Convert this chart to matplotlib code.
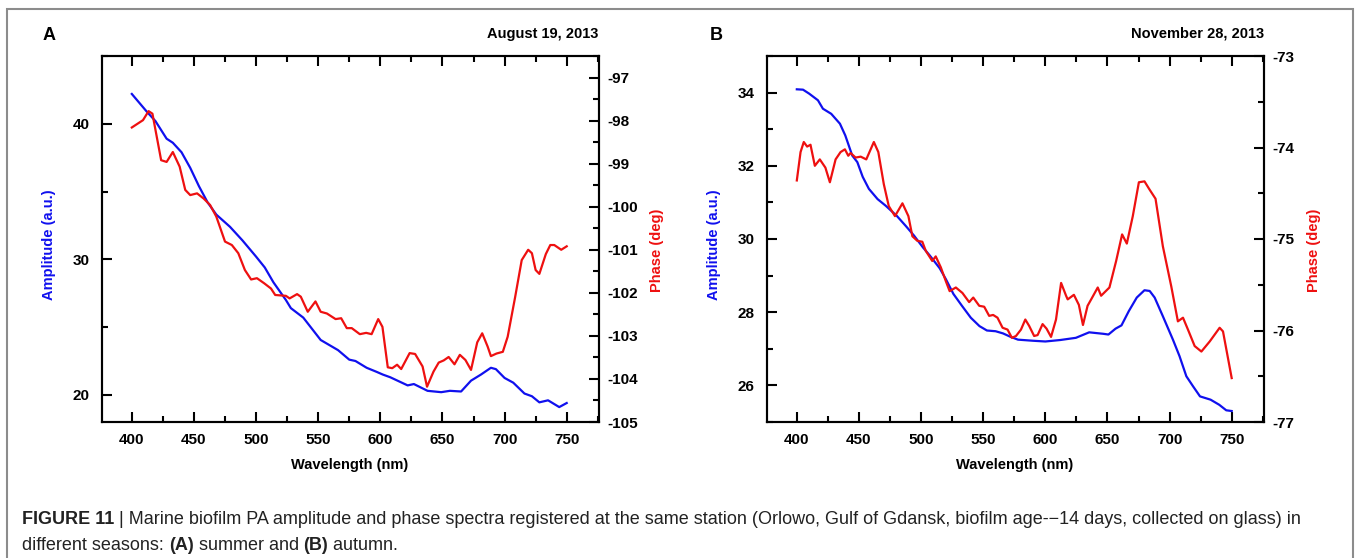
import matplotlib
matplotlib.use("Agg")
import matplotlib.pyplot as plt
from matplotlib.ticker import MultipleLocator
from matplotlib.patches import Rectangle

plt.rcParams['font.family'] = ['Liberation Sans', 'DejaVu Sans']
plt.rcParams['axes.unicode_minus'] = False

# Panel A - August 19, 2013
wl_a_amp = [400, 412, 419, 428, 433, 440, 447, 454, 461, 468, 479, 489, 500, 507, 514,
            524, 528, 538, 552, 566, 575, 580, 589, 597, 602, 608, 622, 627, 638, 649,
            656, 665, 673, 681, 689, 693, 700, 707, 716, 722, 728, 735, 744, 750]
amp_a = [42.2, 40.9, 40.2, 38.9, 38.6, 37.9, 36.75, 35.4, 34.2, 33.3, 32.4, 31.4, 30.2, 29.4, 28.3,
         27.0, 26.4, 25.7, 24.05, 23.3, 22.6, 22.5, 22.0, 21.7, 21.5, 21.3, 20.7, 20.8, 20.3, 20.2,
         20.3, 20.25, 21.05, 21.5, 22.0, 21.9, 21.25, 20.9, 20.1, 19.9, 19.45, 19.6, 19.1, 19.4]

wl_a_ph = [400, 409, 413.5, 416.6, 423.6, 428, 433, 438.5, 443, 447, 452.5, 457.8, 463, 468,
           475, 480.5, 485.7, 491, 496, 500.7, 506.6, 512, 515.4, 524, 527, 533, 536, 541.6,
           547.8, 552, 557, 564, 568.5, 573, 577, 583.5, 588.6, 593, 598.3, 601.7, 606, 609.6,
           613.5, 616.8, 623.6, 628, 634, 637.6, 642.8, 647, 651, 655, 659.7, 664, 668.5, 673,
           678, 682, 686.4, 689, 693.5, 698.6, 702.5, 708.5, 713.8, 719, 722, 725, 728, 733.2,
           736.8, 740, 745.6, 750]
phase_a = [-98.16, -97.99, -97.78, -97.84, -98.92, -98.96, -98.73, -99.07, -99.61, -99.73,
           -99.69, -99.81, -99.96, -100.23, -100.81, -100.89, -101.08, -101.47, -101.69,
           -101.66, -101.78, -101.90, -102.05, -102.07, -102.13, -102.03, -102.09, -102.44,
           -102.2, -102.44, -102.48, -102.61, -102.59, -102.82, -102.82, -102.96, -102.93,
           -102.96, -102.61, -102.79, -103.73, -103.75, -103.67, -103.77, -103.40, -103.42,
           -103.71, -104.18, -103.83, -103.62, -103.57, -103.49, -103.66, -103.44, -103.56,
           -103.79, -103.15, -102.94, -103.25, -103.47, -103.41, -103.37, -103.02, -102.1,
           -101.24, -101.0, -101.08, -101.47, -101.56, -101.1, -100.89, -100.89, -101.0, -100.92]

# Panel B - November 28, 2013
wl_b_amp = [400, 405, 410, 417, 421, 427.7, 434.7, 439, 444.6, 448.7, 453, 458, 465, 471.5,
            480.5, 487.6, 494.4, 501.5, 507, 515, 520, 526, 533, 540, 547, 553, 560, 566,
            571.8, 578, 590, 600, 612, 624.6, 635.3, 646.6, 650.8, 656.5, 661.3, 667.2,
            673.6, 679.8, 684, 688, 694.6, 702.7, 708, 713.5, 719, 724.5, 733, 740, 745.6, 750]
amp_b = [34.09, 34.08, 33.97, 33.79, 33.56, 33.42, 33.15, 32.83, 32.28, 32.1, 31.7, 31.37,
         31.09, 30.91, 30.63, 30.36, 30.09, 29.77, 29.55, 29.2, 28.9, 28.5, 28.17, 27.85,
         27.62, 27.5, 27.48, 27.42, 27.33, 27.25, 27.22, 27.2, 27.24, 27.3, 27.45, 27.41,
         27.39, 27.55, 27.64, 28.03, 28.40, 28.60, 28.58, 28.4, 27.89, 27.25, 26.8, 26.25,
         25.97, 25.70, 25.61, 25.47, 25.32, 25.30]

wl_b_ph = [400, 403, 405.6, 408.3, 411, 414.5, 418.5, 423, 426.6, 431.2, 435.2, 438.7, 441.4,
           443.3, 447.3, 451.4, 455.9, 462, 465.6, 470, 474, 479, 485, 489.8, 493, 497, 501,
           503.8, 509, 511.8, 515.9, 519.9, 523, 528, 533.3, 538.7, 542, 546.8, 550.8, 554.8,
           558, 561.5, 565.6, 569.6, 573.1, 576.4, 580.4, 583.9, 587, 591, 593.8, 597.8, 601,
           604.6, 608.6, 612.7, 616.7, 618, 623, 627, 630.3, 634, 636.9, 642.2, 644.9, 651.6,
           657, 661.8, 665.6, 670.4, 675.3, 679.8, 683.9, 688.7, 694.6, 701.4, 706.7, 710.8,
           714.8, 720.2, 725.6, 732.3, 740.3, 743, 750]
phase_b = [-74.36, -74.05, -73.94, -73.99, -73.97, -74.20, -74.13, -74.22, -74.38, -74.13,
           -74.05, -74.02, -74.09, -74.06, -74.11, -74.10, -74.13, -73.94, -74.05, -74.40,
           -74.64, -74.75, -74.61, -74.75, -74.97, -75.02, -75.03, -75.13, -75.24, -75.19,
           -75.31, -75.46, -75.57, -75.53, -75.59, -75.69, -75.64, -75.73, -75.74, -75.84,
           -75.83, -75.86, -75.97, -75.99, -76.08, -76.06, -75.99, -75.88, -75.95, -76.06,
           -76.05, -75.93, -75.98, -76.07, -75.88, -75.48, -75.62, -75.66, -75.61, -75.72,
           -75.94, -75.73, -75.66, -75.53, -75.62, -75.53, -75.24, -74.95, -75.05, -74.75,
           -74.38, -74.37, -74.46, -74.56, -75.08, -75.52, -75.90, -75.86, -75.99, -76.17,
           -76.23, -76.12, -75.97, -76.01, -76.52]

W, H = 1360, 558
fig = plt.figure(figsize=(W / 100, H / 100), dpi=100)


def style_axes(ax, ax2, ylim, ylim2, ymaj, ymin, ymaj2, ymin2):
    ax.set_xlim(376, 776)
    ax.set_ylim(*ylim)
    ax2.set_ylim(*ylim2)
    ax.xaxis.set_major_locator(MultipleLocator(50))
    ax.xaxis.set_minor_locator(MultipleLocator(25))
    ax.yaxis.set_major_locator(MultipleLocator(ymaj))
    ax.yaxis.set_minor_locator(MultipleLocator(ymin))
    ax2.yaxis.set_major_locator(MultipleLocator(ymaj2))
    ax2.yaxis.set_minor_locator(MultipleLocator(ymin2))
    ax.tick_params(axis='x', which='both', direction='in', top=True, width=1.5, pad=8)
    ax.tick_params(axis='x', which='major', length=7)
    ax.tick_params(axis='x', which='minor', length=4)
    ax.tick_params(axis='y', which='both', direction='in', right=False, width=1.5, pad=9)
    ax.tick_params(axis='y', which='major', length=7)
    ax.tick_params(axis='y', which='minor', length=4)
    ax2.tick_params(axis='y', which='both', direction='in', width=1.5, pad=6)
    ax2.tick_params(axis='y', which='major', length=7)
    ax2.tick_params(axis='y', which='minor', length=4)
    for a in (ax, ax2):
        for sp in a.spines.values():
            sp.set_linewidth(1.5)
        for lab in a.get_xticklabels() + a.get_yticklabels():
            lab.set_fontweight('bold')
            lab.set_fontsize(11)


def px(x, y):
    return x / W, 1 - y / H


# panel A
axA = fig.add_axes([102 / W, 1 - 422 / H, 497 / W, 366 / H])
axA2 = axA.twinx()
axA.plot(wl_a_amp, amp_a, color='#1010ee', lw=1.6, zorder=3)
axA2.plot(wl_a_ph, phase_a, color='#ee1010', lw=1.6)
style_axes(axA, axA2, (18, 45), (-105, -96.5), 10, 5, 1, 0.5)

# panel B
axB = fig.add_axes([767 / W, 1 - 422 / H, 497 / W, 366 / H])
axB2 = axB.twinx()
axB.plot(wl_b_amp, amp_b, color='#1010ee', lw=1.6, zorder=3)
axB2.plot(wl_b_ph, phase_b, color='#ee1010', lw=1.6)
style_axes(axB, axB2, (25, 35), (-77, -73), 2, 1, 1, 0.5)

# labels
fig.text(*px(43, 35), 'A', fontsize=13, fontweight='bold', va='center', ha='left')
fig.text(*px(598, 34), 'August 19, 2013', fontsize=10.5, fontweight='bold', va='center', ha='right')
fig.text(*px(710, 35), 'B', fontsize=13, fontweight='bold', va='center', ha='left')
fig.text(*px(1264, 34), 'November 28, 2013', fontsize=10.5, fontweight='bold', va='center', ha='right')

for xc in (350, 1015):
    fig.text(*px(xc, 465), 'Wavelength (nm)', fontsize=10.5, fontweight='bold', ha='center', va='center')
for xc in (49, 714):
    fig.text(*px(xc, 245), 'Amplitude (a.u.)', fontsize=10.5, fontweight='bold', color='#1010ee',
             rotation=90, ha='center', va='center')
for xc in (657, 1314):
    fig.text(*px(xc, 250), 'Phase (deg)', fontsize=10.5, fontweight='bold', color='#ee1010',
             rotation=90, ha='center', va='center')

# outer frame
fig.patches.append(Rectangle((7 / W, -0.05), 1346 / W, 1.05 - 9 / H, transform=fig.transFigure,
                             fill=False, edgecolor='#8c8c8c', lw=1.5))

# caption, mixed bold / normal
renderer = fig.canvas.get_renderer()
cap_size = 13


def caption_line(parts, x0, y0):
    x = x0
    for txt, weight in parts:
        t = fig.text(x / W, 1 - y0 / H, txt, fontsize=cap_size, fontweight=weight,
                     ha='left', va='center', color='#222222')
        bb = t.get_window_extent(renderer)
        x += bb.width


caption_line([('FIGURE 11', 'bold'),
              (' | Marine biofilm PA amplitude and phase spectra registered at the same station '
               '(Orlowo, Gulf of Gdansk, biofilm age-\u221214 days, collected on glass) in', 'normal')],
             22, 520)
caption_line([('different seasons: ', 'normal'), ('(A)', 'bold'), (' summer and ', 'normal'),
              ('(B)', 'bold'), (' autumn.', 'normal')], 22, 546)

fig.savefig('out.png', dpi=100)
plt.close(fig)
